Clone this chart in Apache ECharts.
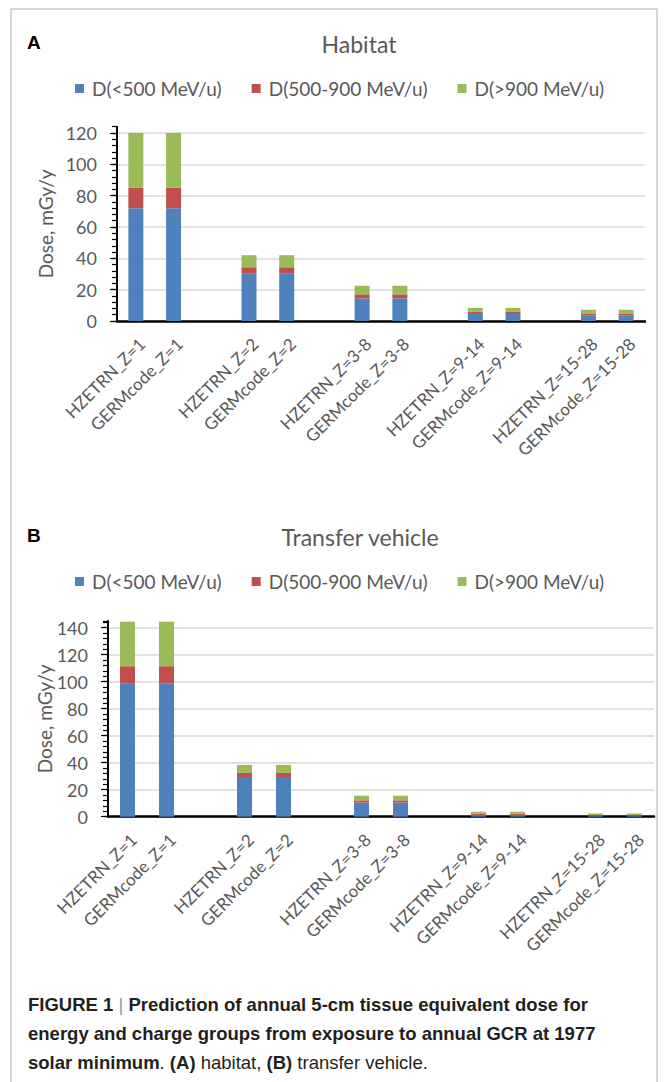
<!DOCTYPE html>
<html>
<head>
<meta charset="utf-8">
<script src="https://cdn.jsdelivr.net/npm/echarts@6/dist/echarts.min.js"></script>
<style>
  html, body { margin: 0; padding: 0; background: #ffffff; }
  #chart { width: 664px; height: 1082px; }
</style>
</head>
<body>
<div id="chart"></div>
<script>
// Categories: HZETRN / GERMcode pairs per charge group, with empty slots between groups
const categories = [
  'HZETRN_Z=1', 'GERMcode_Z=1', '',
  'HZETRN_Z=2', 'GERMcode_Z=2', '',
  'HZETRN_Z=3-8', 'GERMcode_Z=3-8', '',
  'HZETRN_Z=9-14', 'GERMcode_Z=9-14', '',
  'HZETRN_Z=15-28', 'GERMcode_Z=15-28'
];
const energyGroups = ['D(<500 MeV/u)', 'D(500-900 MeV/u)', 'D(>900 MeV/u)'];

// Habitat dose, mGy/y
const habitatLow  = [72, 72, null, 30.5, 30.5, null, 14.4, 14.4, null, 4.5, 4.5, null, 3.4, 3.4];
const habitatMid  = [13, 13, null, 3.8, 3.8, null, 2.6, 2.6, null, 1.3, 1.3, null, 1.1, 1.1];
const habitatHigh = [35, 35, null, 7.7, 7.7, null, 5.5, 5.5, null, 2.6, 2.6, null, 2.7, 2.7];

// Transfer vehicle dose, mGy/y
const vehicleLow  = [98.5, 98.5, null, 29.4, 29.4, null, 10.4, 10.4, null, 1.2, 1.2, null, 0.7, 0.7];
const vehicleMid  = [13, 13, null, 3, 3, null, 1.7, 1.7, null, 1.0, 1.0, null, 0.5, 0.5];
const vehicleHigh = [33, 33, null, 6, 6, null, 3.5, 3.5, null, 1.5, 1.5, null, 1.2, 1.2];

const yTicksMajor = 20;
const yTicksMinor = 4;

const colors = ['#4f81bd', '#c0504d', '#9bbb59'];
const font = 'Lato, "Open Sans", sans-serif';
const grey = '#595959';

const chart = echarts.init(document.getElementById('chart'), null, { renderer: 'svg' });

function xAxisFor(gridIndex) {
  return {
    type: 'category', gridIndex: gridIndex, data: categories,
    axisLine: { lineStyle: { color: '#000', width: 2.5 } },
    axisTick: { show: false },
    axisLabel: { rotate: 45, interval: 0, color: grey, fontSize: 17, fontFamily: font,
                 margin: 14, verticalAlign: 'top' },
    splitLine: { show: false }
  };
}
function mainYAxis(gridIndex, max, gap) {
  return {
    type: 'value', gridIndex: gridIndex, position: 'left', min: 0, max: max, interval: yTicksMajor,
    name: 'Dose, mGy/y', nameLocation: 'middle', nameGap: gap, nameMoveOverlap: false,
    nameTextStyle: { color: grey, fontSize: 19, fontFamily: font },
    axisLine: { show: true, lineStyle: { color: '#000', width: 2 } },
    axisTick: { show: true, length: 7, lineStyle: { color: '#000', width: 1.2 } },
    axisLabel: { color: grey, fontSize: 18, fontFamily: font, margin: 20, showMaxLabel: false },
    splitLine: { show: true, showMaxLine: false, lineStyle: { color: '#d9d9d9', width: 1.5 } }
  };
}
function minorYAxis(gridIndex, max) {
  return {
    type: 'value', gridIndex: gridIndex, position: 'left', offset: 0,
    min: 0, max: max, interval: yTicksMinor,
    axisLine: { show: false },
    axisTick: { show: true, length: 5, lineStyle: { color: '#000', width: 1.2 } },
    axisLabel: { show: false },
    splitLine: { show: false }
  };
}
function stackSeries(xi, yi, stack, values) {
  return values.map((vals, i) => ({
    name: energyGroups[i], type: 'bar', stack: stack,
    xAxisIndex: xi, yAxisIndex: yi, data: vals, barWidth: 15,
    itemStyle: { color: colors[i] },
    emphasis: { disabled: true }
  }));
}

const legendBase = {
  data: energyGroups, left: 70, itemWidth: 9, itemHeight: 9, itemGap: 30, icon: 'rect',
  textStyle: { color: grey, fontSize: 19, fontFamily: font, padding: [0, 0, 0, 3] }
};

chart.setOption({
  animation: false,
  color: colors,
  title: [
    { text: 'Habitat', left: 354, top: 27, textAlign: 'center',
      textStyle: { color: grey, fontSize: 23, fontWeight: 'normal', fontFamily: font } },
    { text: 'Transfer vehicle', left: 355, top: 520, textAlign: 'center',
      textStyle: { color: grey, fontSize: 23, fontWeight: 'normal', fontFamily: font } }
  ],
  legend: [
    Object.assign({}, legendBase, { top: 74 }),
    Object.assign({}, legendBase, { top: 567 })
  ],
  grid: [
    { left: 117, right: 19, top: 126.7, height: 194.3 },
    { left: 108, right: 10, top: 621, height: 195.7 }
  ],
  xAxis: [xAxisFor(0), xAxisFor(1)],
  yAxis: [
    mainYAxis(0, 124, 62), minorYAxis(0, 124),
    mainYAxis(1, 145, 54), minorYAxis(1, 145)
  ],
  series: [].concat(
    stackSeries(0, 0, 'habitat', [habitatLow, habitatMid, habitatHigh]),
    stackSeries(1, 2, 'vehicle', [vehicleLow, vehicleMid, vehicleHigh])
  ),
  graphic: [
    { type: 'rect', shape: { x: 11, y: 9, width: 646, height: 1090 },
      style: { fill: 'none', stroke: '#c9c9c9', lineWidth: 1.5 }, silent: true, z: -1 },
    { type: 'text', x: 27, y: 33,
      style: { text: 'A', font: 'bold 19px "Liberation Sans", Arial, sans-serif', fill: '#000' } },
    { type: 'text', x: 27, y: 526,
      style: { text: 'B', font: 'bold 19px "Liberation Sans", Arial, sans-serif', fill: '#000' } },
    { type: 'text', x: 28, y: 990,
      style: {
        text: '{b|FIGURE 1 }{s||}{b| Prediction of annual 5-cm tissue equivalent dose for}\n' +
              '{b|energy and charge groups from exposure to annual GCR at 1977}\n' +
              '{b|solar minimum}{r|. }{b|(A)}{r| habitat, }{b|(B)}{r| transfer vehicle.}',
        lineHeight: 29,
        rich: {
          b: { font: 'bold 18.5px "Liberation Sans Narrow", "Liberation Sans", Arial, sans-serif', fill: '#231f20', lineHeight: 29 },
          r: { font: '18.5px "Liberation Sans Narrow", "Liberation Sans", Arial, sans-serif', fill: '#231f20', lineHeight: 29 },
          s: { font: '18.5px "Liberation Sans Narrow", "Liberation Sans", Arial, sans-serif', fill: '#9a9a9a', lineHeight: 29 }
        }
      } }
  ]
});
</script>
</body>
</html>
